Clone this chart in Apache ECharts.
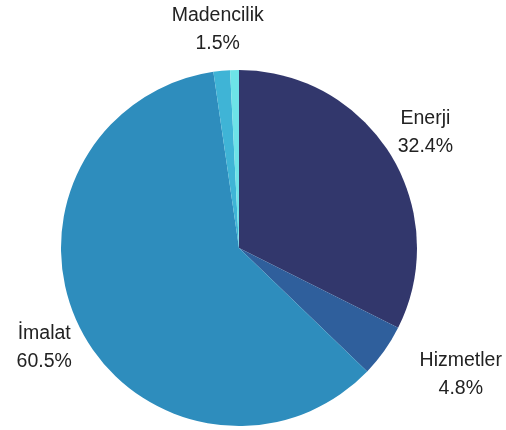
<!DOCTYPE html>
<html>
<head>
<meta charset="utf-8">
<script src="https://cdn.jsdelivr.net/npm/echarts@6/dist/echarts.min.js"></script>
<style>
  html, body { margin: 0; padding: 0; background: #fff; }
  #chart { width: 506px; height: 430px; }
</style>
</head>
<body>
<div id="chart"></div>
<script>
// sektör payları (%)
var sectors = ['Enerji', 'Hizmetler', 'İmalat', 'Madencilik', 'Diğer'];
var shares = [32.4, 4.8, 60.5, 1.5, 0.8];
var colors = ['#32376c', '#2f5f9c', '#2e8dbd', '#3fb4d6', '#6de3e8'];
var labelled = [true, true, true, true, false];

var chart = echarts.init(document.getElementById('chart'));

var sliceData = sectors.map(function (name, i) {
    return { name: name, value: shares[i], itemStyle: { color: colors[i] } };
});

// şeffaf halka: etiketleri dilim ortasının dışında ortalar
var labelData = sectors.map(function (name, i) {
    return {
        name: name,
        value: shares[i],
        label: { show: labelled[i] }
    };
});

var option = {
    animation: false,
    series: [
        {
            type: 'pie',
            center: [239, 248],
            radius: 178,
            startAngle: 90,
            clockwise: true,
            silent: true,
            label: { show: false },
            labelLine: { show: false },
            data: sliceData
        },
        {
            type: 'pie',
            center: [239, 248],
            radius: [196, 236],
            startAngle: 90,
            clockwise: true,
            silent: true,
            avoidLabelOverlap: false,
            itemStyle: { color: 'rgba(0,0,0,0)' },
            labelLine: { show: false },
            label: {
                position: 'inside',
                fontFamily: 'Liberation Sans',
                fontSize: 19.5,
                lineHeight: 28,
                color: '#222',
                formatter: function (p) {
                    return p.name + '\n' + p.value.toFixed(1) + '%';
                }
            },
            // Hizmetler etiketi dışarı itilmiş
            labelLayout: function (params) {
                if (params.dataIndex === 1) {
                    return { dx: 43, dy: 0 };
                }
            },
            data: labelData
        }
    ]
};
chart.setOption(option);
</script>
</body>
</html>
